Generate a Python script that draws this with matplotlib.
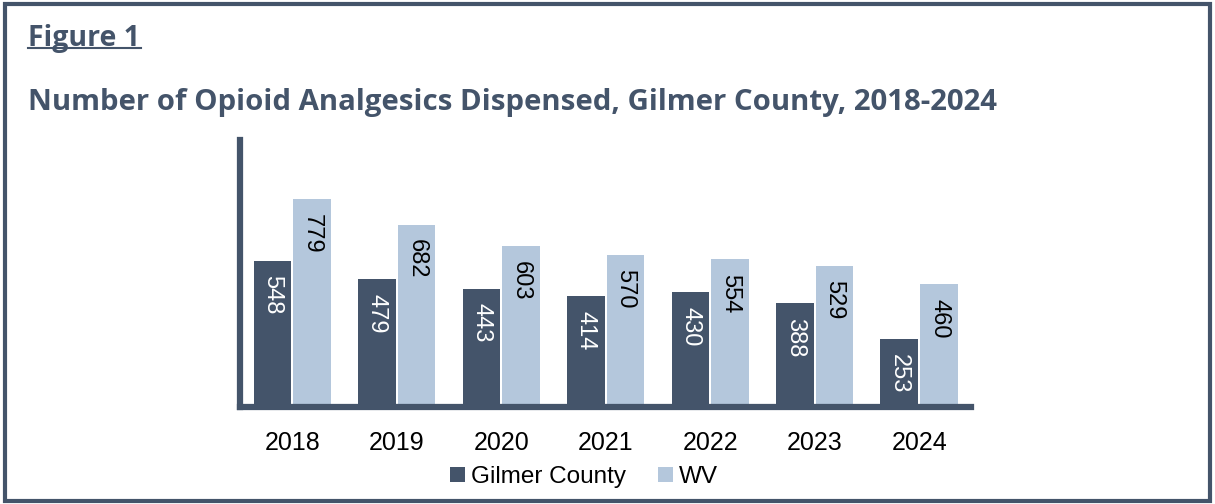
import matplotlib
matplotlib.use("Agg")
import matplotlib.pyplot as plt
import numpy as np
from matplotlib.patches import Rectangle

# data
years = ["2018", "2019", "2020", "2021", "2022", "2023", "2024"]
gilmer = [548, 479, 443, 414, 430, 388, 253]
wv = [779, 682, 603, 570, 554, 529, 460]

dark = "#44546a"
light = "#b4c7dc"

plt.rcParams["font.family"] = ["Liberation Sans", "DejaVu Sans"]

fig = plt.figure(figsize=(12.15, 5.04), dpi=100)
ax = fig.add_axes([0.1975, 0.1925, 0.602, 0.53])

x = np.arange(len(years))
w = 0.36
b1 = ax.bar(x - w / 2 - 0.01, gilmer, w, color=dark, label="Gilmer County")
b2 = ax.bar(x + w / 2 + 0.01, wv, w, color=light, label="WV")

for bars, vals, col in [(b1, gilmer, "white"), (b2, wv, "black")]:
    for r, v in zip(bars, vals):
        ax.text(r.get_x() + r.get_width() / 2, v - 55, str(v), rotation=270,
                ha="center", va="top", color=col, fontsize=17)

ax.set_xlim(-0.5, 6.5)
ax.set_ylim(0, 1000)
ax.set_xticks(x)
ax.set_xticklabels(years, fontsize=18)
ax.set_yticks([])
ax.tick_params(axis="x", length=0, pad=17)
for s in ["top", "right"]:
    ax.spines[s].set_visible(False)
for s in ["left", "bottom"]:
    ax.spines[s].set_color(dark)
    ax.spines[s].set_linewidth(4.5)

leg = ax.legend(loc="center", bbox_to_anchor=(0.47, -0.262), ncol=2,
                frameon=False, fontsize=17.5, handlelength=0.62, handleheight=0.62,
                handletextpad=0.25, columnspacing=1.3)

# title block
fig.text(0.023, 0.923, "Figure 1", fontsize=20.5, fontweight="bold", color=dark,
         family=["Open Sans", "DejaVu Sans"], va="center")
fig.add_artist(plt.Line2D([0.023, 0.116], [0.904, 0.904], color=dark, lw=1.5))
fig.text(0.023, 0.797, "Number of Opioid Analgesics Dispensed, Gilmer County, 2018-2024",
         fontsize=21.2, fontweight="bold", color=dark,
         family=["Open Sans", "DejaVu Sans"], va="center")

# outer frame
fig.add_artist(Rectangle((0.004, 0.005), 0.992, 0.988, transform=fig.transFigure,
                         fill=False, edgecolor=dark, lw=3))

fig.savefig("out.png", dpi=100)
